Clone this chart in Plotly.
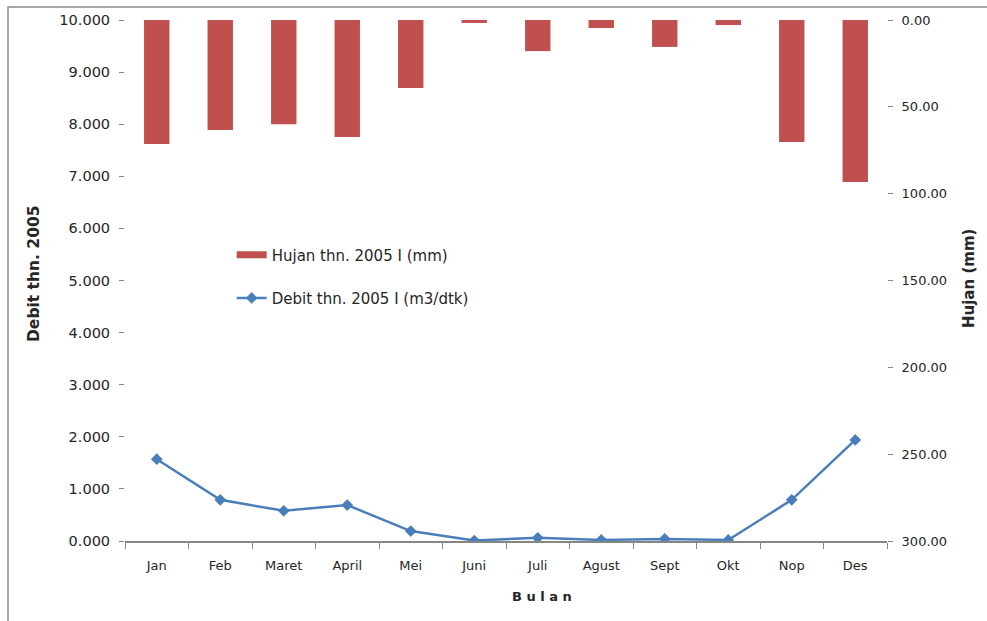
import plotly.graph_objects as go

# Monthly data, 2005
bulan = ["Jan", "Feb", "Maret", "April", "Mei", "Juni", "Juli", "Agust", "Sept", "Okt", "Nop", "Des"]
hujan_mm = [71.4, 63.3, 60.0, 67.4, 39.2, 1.7, 17.9, 4.6, 15.5, 2.9, 70.2, 93.3]
debit_m3 = [1.57, 0.79, 0.58, 0.69, 0.19, 0.01, 0.06, 0.02, 0.04, 0.02, 0.79, 1.94]

debit_ticks = [0, 1, 2, 3, 4, 5, 6, 7, 8, 9, 10]
hujan_ticks = [0, 50, 100, 150, 200, 250, 300]

RED = "#C0504D"
BLUE = "#4A7EBB"
TXT = "#262626"
FONT = "DejaVu Sans"

fig = go.Figure()

# rainfall bars hang from the top on the reversed right axis
fig.add_trace(go.Bar(
    x=bulan, y=hujan_mm, yaxis="y2", width=0.4,
    marker=dict(color=RED, line=dict(width=0)),
    name="Hujan thn. 2005 I (mm)", showlegend=False,
))
# legend swatch for the rainfall series
fig.add_trace(go.Scatter(
    x=[None], y=[None], mode="lines", yaxis="y2",
    line=dict(color=RED, width=7),
    name="Hujan thn. 2005 I (mm)", legend="legend",
))
# discharge line
fig.add_trace(go.Scatter(
    x=bulan, y=debit_m3, mode="lines+markers",
    line=dict(color=BLUE, width=2.5),
    marker=dict(symbol="diamond", size=9, color=BLUE),
    name="Debit thn. 2005 I (m3/dtk)", legend="legend2",
))

fig.update_layout(
    width=987, height=621,
    margin=dict(l=125, r=100, t=20, b=80),
    paper_bgcolor="white", plot_bgcolor="white",
    font=dict(family=FONT, size=13, color=TXT),
    xaxis=dict(
        type="category", tickson="boundaries", range=[-0.5, 11.5],
        ticks="outside", ticklen=6, tickcolor="#868686",
        showline=True, linecolor="#868686", linewidth=1.5,
        showgrid=False, zeroline=False, automargin=False,
        tickfont=dict(size=13, color=TXT), ticklabelstandoff=12,
    ),
    yaxis=dict(
        range=[0, 10], tickvals=debit_ticks, tickformat=".3f",
        ticks="outside", ticklen=5, tickcolor="#868686",
        showline=False, showgrid=False, zeroline=False, automargin=False,
        ticklabelstandoff=6, tickfont=dict(size=14.5, color=TXT),
    ),
    yaxis2=dict(
        overlaying="y", side="right",
        range=[300, 0], tickvals=hujan_ticks, tickformat=".2f",
        ticks="outside", ticklen=5, tickcolor="#868686",
        showline=False, showgrid=False, zeroline=False, automargin=False,
        ticklabelstandoff=6, tickfont=dict(size=13, color=TXT),
    ),
    legend=dict(
        x=0.14, y=0.549, xanchor="left", yanchor="middle",
        bgcolor="rgba(0,0,0,0)", font=dict(size=15, color=TXT),
    ),
    legend2=dict(
        x=0.14, y=0.466, xanchor="left", yanchor="middle",
        bgcolor="rgba(0,0,0,0)", font=dict(size=15, color=TXT),
    ),
    annotations=[
        dict(text="<b>Debit thn. 2005</b>", textangle=-90, x=34, y=274,
             xref="paper", yref="paper", showarrow=False, font=dict(size=15.5)),
        dict(text="<b>Hujan (mm)</b>", textangle=-90, x=969, y=279,
             xref="paper", yref="paper", showarrow=False, font=dict(size=15)),
        dict(text="<b>B u l a n</b>", x=542, y=596,
             xref="paper", yref="paper", showarrow=False, font=dict(size=13)),
    ],
    shapes=[
        dict(type="rect", xref="paper", yref="paper",
             x0=8, x1=1000, y0=7, y1=640,
             line=dict(color="#8C8C8C", width=1.5), fillcolor="rgba(0,0,0,0)",
             layer="below"),
    ],
)

# convert pixel positions of the frame and titles into paper coordinates
L, T, W, H = 125, 20, 987 - 125 - 100, 621 - 20 - 80


def px_x(v):
    return (v - L) / W


def px_y(v):
    return (T + H - v) / H


for ann in fig.layout.annotations:
    ann.x = px_x(ann.x)
    ann.y = px_y(ann.y)
    ann.xanchor = "center"
    ann.yanchor = "middle"
for shp in fig.layout.shapes:
    shp.x0, shp.x1 = px_x(shp.x0), px_x(shp.x1)
    shp.y0, shp.y1 = px_y(shp.y1), px_y(shp.y0)

fig.write_html("out.html")
